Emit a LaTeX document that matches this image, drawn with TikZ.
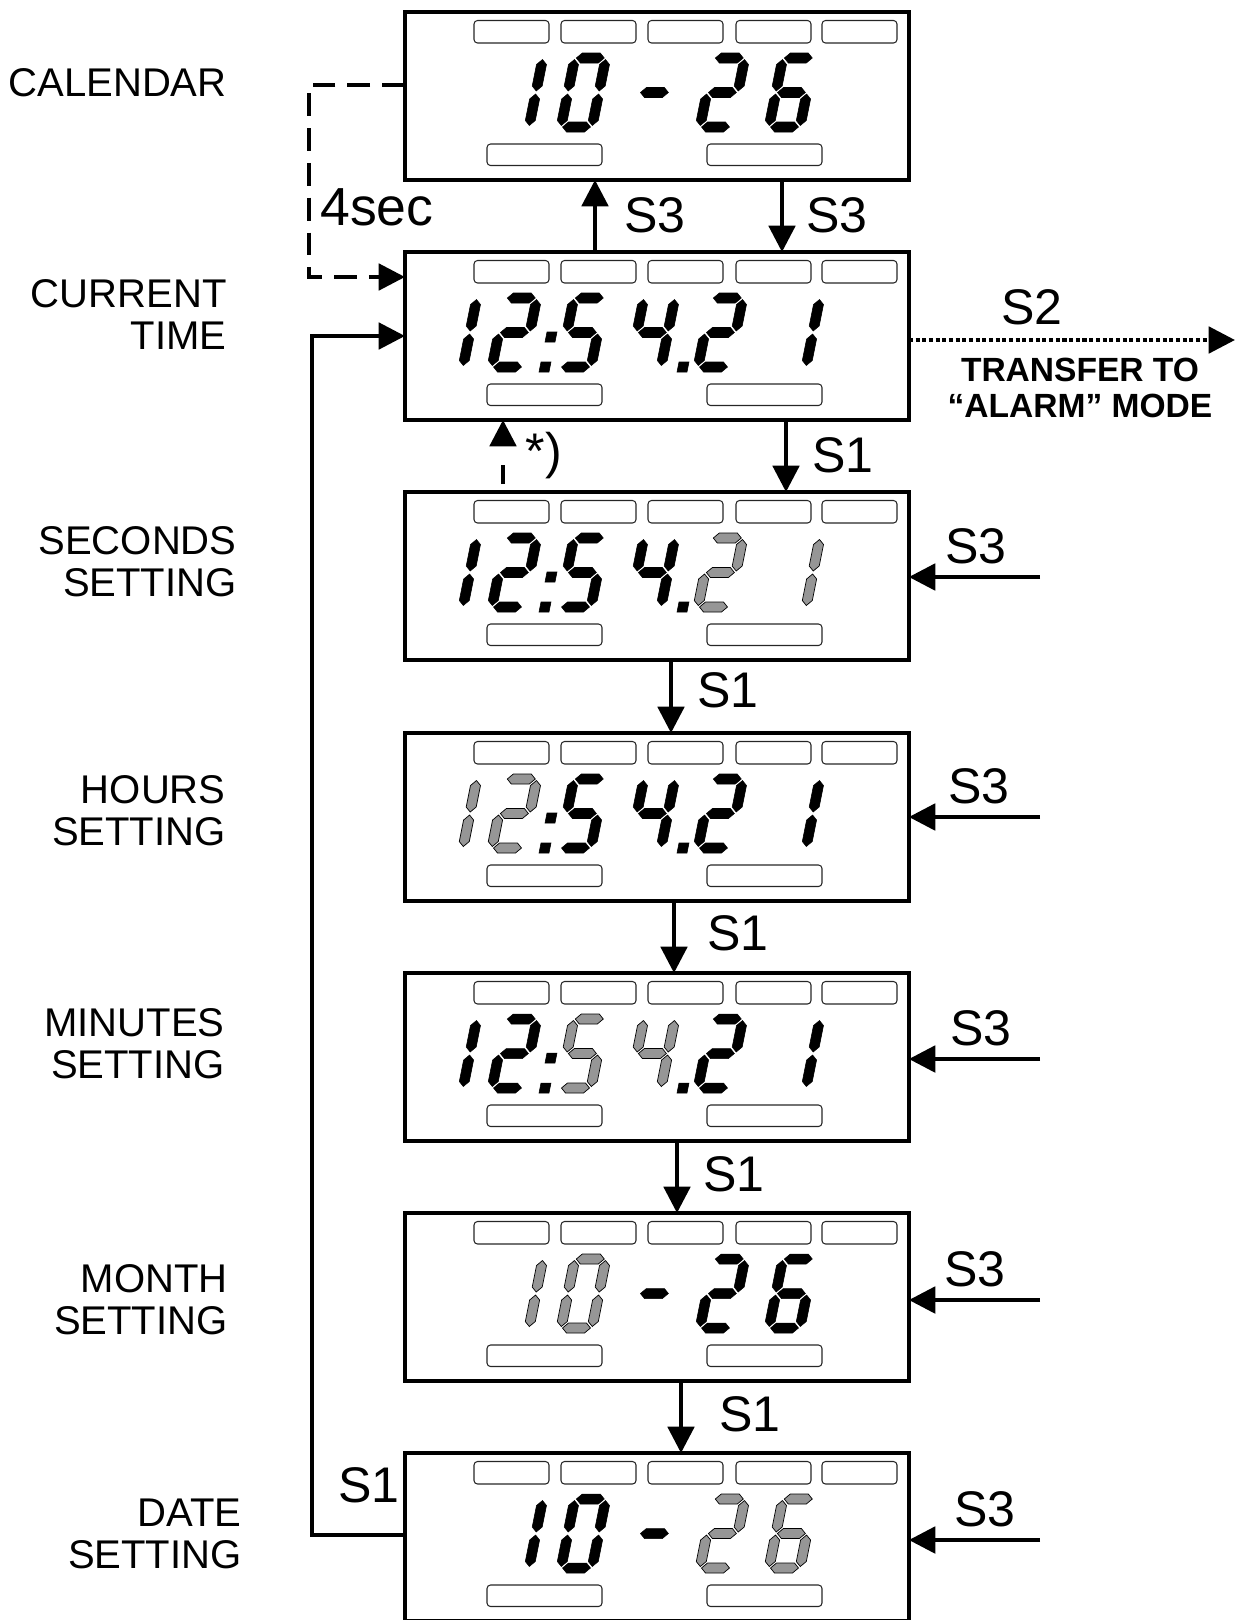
\documentclass[tikz,border=0pt]{standalone}
\usepackage{fontspec}
\setmainfont{Liberation Sans}
\usetikzlibrary{arrows.meta}

\definecolor{segray}{RGB}{150,150,150}

\tikzset{
  lcd/.style={draw, line width=2.45pt, minimum width=10.08cm, minimum height=3.36cm,
    inner sep=0pt, outer sep=0pt, anchor=north west},
  padbox/.style={draw=black!85, line width=0.6pt, rounded corners=2pt},
  segon/.style={fill=black, draw=black, line width=0.3pt},
  segoff/.style={fill=segray, draw=black, line width=0.4pt},
  modelabel/.style={font=\fontsize{22.8}{23.9}\selectfont, align=right, anchor=east, inner sep=0pt},
  keylabel/.style={font=\fontsize{28.5}{30}\selectfont, inner sep=0pt},
  arr/.style={line width=2.3pt, -{Triangle[length=15pt, width=15pt]}},
  dasharr/.style={arr, dash pattern=on 13pt off 6.8pt},
  dotarr/.style={arr, dash pattern=on 2.3pt off 1.5pt},
}

% one segment of an lcd digit (y grows downwards, 0 = digit bottom)
\newcommand\hseg[2]{\path[#1] (6.5,#2) -- ++(5,-5) -- ++(18,0) -- ++(5,5) -- ++(-5,5) -- ++(-18,0) -- cycle;}
\newcommand\vseg[3]{\path[#1] (#2,#3) -- ++(5,5) -- ++(0,21.5) -- ++(-5,5) -- ++(-5,-5) -- ++(0,-21.5) -- cycle;}
\newcommand\sega[1]{\hseg{#1}{-74}}
\newcommand\segb[1]{\vseg{#1}{36}{-72.5}}
\newcommand\segc[1]{\vseg{#1}{36}{-38}}
\newcommand\segd[1]{\hseg{#1}{-5}}
\newcommand\sege[1]{\vseg{#1}{5}{-38}}
\newcommand\segf[1]{\vseg{#1}{5}{-72.5}}
\newcommand\segg[1]{\hseg{#1}{-39.5}}

\def\dzero{a,b,c,d,e,f}
\def\done{b,c}
\def\dtwo{a,b,g,e,d}
\def\dfour{f,g,b,c}
\def\dfive{a,f,g,c,d}
\def\dsix{a,f,g,e,c,d}
\def\dminus{g}

\newcommand\lcddigit[3]{%
  \begin{scope}[shift={(#1,120)}, xslant=0.2]
    \foreach \s in #3 {\csname seg\s\endcsname{#2}}
  \end{scope}}
\newcommand\lcddot[3]{%
  \begin{scope}[shift={(#1,120)}, xslant=0.2]
    \path[#2] (0,#3) rectangle ++(10,-10);
  \end{scope}}

% the empty indicator fields of a display
\newcommand\lcdpads{%
  \foreach \xx in {69,156,243,331,417} {\draw[padbox] (\xx,8.5) rectangle ++(75,22.5);}
  \draw[padbox] (82,132) rectangle (197,153.5);
  \draw[padbox] (302,132) rectangle (417,153.5);}

\newcommand\timeface[3]{% hours, minutes, seconds
  \lcddigit{21}{#1}{\done}\lcddigit{81}{#1}{\dtwo}
  \lcddot{134}{segon}{0}\lcddot{134}{segon}{-30}
  \lcddigit{149}{#2}{\dfive}\lcddigit{219}{#2}{\dfour}
  \lcddot{272}{segon}{0}
  \lcddigit{287}{#3}{\dtwo}\lcddigit{364}{#3}{\done}}
\newcommand\dateface[2]{% month, day
  \lcddigit{87}{#1}{\done}\lcddigit{150}{#1}{\dzero}
  \lcddigit{221}{segon}{\dminus}
  \lcddigit{289}{#2}{\dtwo}\lcddigit{358}{#2}{\dsix}}

\begin{document}
\begin{tikzpicture}[x=0.02cm, y=-0.02cm]
  \useasboundingbox (0,0) rectangle (1242,1620);

  % displays
  \node[lcd] (cal) at (405,12) {};
  \node[lcd] (time) at (405,252) {};
  \node[lcd] (sec) at (405,492) {};
  \node[lcd] (hrs) at (405,733) {};
  \node[lcd] (min) at (405,973) {};
  \node[lcd] (mon) at (405,1213) {};
  \node[lcd] (day) at (405,1453) {};

  \begin{scope}[shift={(cal.north west)}] \lcdpads \dateface{segon}{segon} \end{scope}
  \begin{scope}[shift={(time.north west)}] \lcdpads \timeface{segon}{segon}{segon} \end{scope}
  \begin{scope}[shift={(sec.north west)}] \lcdpads \timeface{segon}{segon}{segoff} \end{scope}
  \begin{scope}[shift={(hrs.north west)}] \lcdpads \timeface{segoff}{segon}{segon} \end{scope}
  \begin{scope}[shift={(min.north west)}] \lcdpads \timeface{segon}{segoff}{segon} \end{scope}
  \begin{scope}[shift={(mon.north west)}] \lcdpads \dateface{segoff}{segon} \end{scope}
  \begin{scope}[shift={(day.north west)}] \lcdpads \dateface{segon}{segoff} \end{scope}

  % mode names
  \node[modelabel] (lcal) at (227,83) {CALENDAR};
  \node[modelabel] (ltime) at (227,315) {CURRENT\\TIME};
  \node[modelabel] (lsec) at (237,562) {SECONDS\\SETTING};
  \node[modelabel] (lhrs) at (226,811) {HOURS\\SETTING};
  \node[modelabel] (lmin) at (225,1044) {MINUTES\\SETTING};
  \node[modelabel] (lmon) at (228,1300) {MONTH\\SETTING};
  \node[modelabel] (lday) at (242,1534) {DATE\\SETTING};

  % calendar <-> current time
  \coordinate (upS3) at (595,0);
  \coordinate (dnS3) at (782,0);
  \draw[arr] (time.north -| upS3) -- (cal.south -| upS3);
  \draw[arr] (cal.south -| dnS3) -- (time.north -| dnS3);
  \node[keylabel] (kup) at (655,215) {S3};
  \node[keylabel] (kdn) at (837,215) {S3};

  \coordinate (w1) at (309,85);
  \coordinate (w2) at (309,277);
  \draw[dasharr] (cal.west |- w1) -- (w1) -- (w2) -- (time.west |- w2);
  \node[keylabel, font=\fontsize{30.5}{32}\selectfont] (kwait) at (377,207) {4sec};

  % alarm mode
  \coordinate (alarm) at (1235,340);
  \draw[dotarr] (time.east |- alarm) -- (alarm);
  \node[keylabel] (ks2) at (1032,307) {S2};
  \node[font=\bfseries\fontsize{19.1}{20.3}\selectfont, align=center, inner sep=0pt] (lalarm) at (1080,388) {TRANSFER TO\\“ALARM” MODE};

  % back to time
  \coordinate (back) at (503,0);
  \draw[dasharr, dash pattern=on 10.8pt off 15pt, dash phase=21.3pt] (sec.north -| back) -- (time.south -| back);
  \node[keylabel] (kback) at (544,456) {*)};

  % S1 chain
  \coordinate (c1) at (786,0);
  \coordinate (c2) at (671,0);
  \coordinate (c3) at (674,0);
  \coordinate (c4) at (677,0);
  \coordinate (c5) at (681,0);
  \draw[arr] (time.south -| c1) -- (sec.north -| c1);
  \draw[arr] (sec.south -| c2) -- (hrs.north -| c2);
  \draw[arr] (hrs.south -| c3) -- (min.north -| c3);
  \draw[arr] (min.south -| c4) -- (mon.north -| c4);
  \draw[arr] (mon.south -| c5) -- (day.north -| c5);
  \node[keylabel] (k1) at (843,455) {S1};
  \node[keylabel] (k2) at (728,690) {S1};
  \node[keylabel] (k3) at (738,933) {S1};
  \node[keylabel] (k4) at (734,1174) {S1};
  \node[keylabel] (k5) at (750,1414) {S1};

  \coordinate (r1) at (312,1535);
  \coordinate (r2) at (312,336);
  \draw[arr] (day.west |- r1) -- (r1) -- (r2) -- (time.west |- r2);
  \node[keylabel] (kloop) at (369,1485) {S1};

  % S3 changes the value
  \foreach \b/\y/\lx in {sec/577/976, hrs/817/979, min/1059/981, mon/1300/975, day/1540/985} {
    \coordinate (in\b) at (1040,\y);
    \draw[arr] (in\b) -- (\b.east |- in\b);
    \node[keylabel] (t\b) at (\lx,\y-31) {S3};
  }
\end{tikzpicture}
\end{document}
